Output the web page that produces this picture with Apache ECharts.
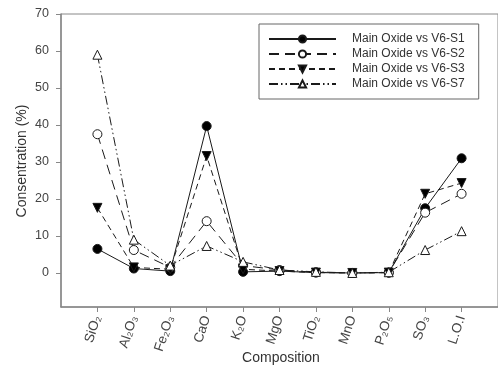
<!DOCTYPE html>
<html><head><meta charset="utf-8">
<script src="https://cdn.jsdelivr.net/npm/echarts@6/dist/echarts.min.js"></script>
<style>html,body{margin:0;padding:0;background:#fff}#c{width:498px;height:368px}</style>
</head><body><div id="c"></div>
<script>
const categories = ['SiO\u2082','Al\u2082O\u2083','Fe\u2082O\u2083','CaO','K\u2082O','MgO','TiO\u2082','MnO','P\u2082O\u2085','SO\u2083','L.O.I'];
const s1 = [6.5, 1.2, 0.5, 39.7, 0.3, 0.5, 0.1, 0.0, 0.1, 17.5, 31.0];
const s2 = [37.5, 6.2, 1.5, 14.0, 2.0, 0.8, 0.2, 0.0, 0.1, 16.3, 21.4];
const s3 = [17.6, 1.5, 1.0, 31.6, 1.0, 0.5, 0.1, 0.0, 0.1, 21.4, 24.3];
const s7 = [59.0, 9.0, 2.0, 7.3, 3.0, 0.8, 0.3, 0.0, 0.2, 6.2, 11.3];
const seriesNames = ['Main Oxide vs V6-S1','Main Oxide vs V6-S2','Main Oxide vs V6-S3','Main Oxide vs V6-S7'];
const yTicks = [0,10,20,30,40,50,60,70];
const xTicks = categories.map((c,i)=>i+1);

const FONT = 'Liberation Sans, Arial, sans-serif';
const toPairs = arr => arr.map((v,i)=>[i+1, v]);
const lineCol = '#1a1a1a';
function mk(name, data, symbol, fill, dash, rot){
  return {
    name, type:'line', data: toPairs(data), symbol, symbolSize: 9, symbolRotate: rot||0,
    lineStyle:{color: lineCol, width: 1, type: dash},
    itemStyle:{color: fill, borderColor: lineCol, borderWidth: 1},
    emphasis:{disabled:true}, z: 3
  };
}
const chart = echarts.init(document.getElementById('c'), null, {renderer:'canvas'});
chart.setOption({
  animation:false,
  backgroundColor:'#fff',
  grid:{left:61, top:14, width:441.6, height:293, show:true, borderColor:'#888', borderWidth:1, backgroundColor:'transparent'},
  xAxis:{type:'value', min:0, max:12,
    axisLine:{onZero:false, lineStyle:{color:'#888', width:1.5}},
    axisTick:{show:true, length:5, customValues:xTicks, lineStyle:{color:'#888'}},
    splitLine:{show:false},
    axisLabel:{customValues:xTicks, rotate:72, margin:9, fontSize:13.5, color:'#444', fontFamily:FONT,
      formatter: v => categories[v-1] || ''}
  },
  yAxis:{type:'value', min:-9.2, max:70,
    axisLine:{show:true, onZero:false, lineStyle:{color:'#888', width:1.5}},
    axisTick:{show:true, length:5, customValues:yTicks, lineStyle:{color:'#888'}},
    splitLine:{show:false},
    axisLabel:{customValues:yTicks, margin:12, fontSize:12.5, color:'#444', fontFamily:FONT}
  },
  legend:{orient:'vertical', left:259, top:24, data:seriesNames,
    backgroundColor:'#fff', borderColor:'#666', borderWidth:1,
    padding:[8,14,8,9], itemWidth:67, itemHeight:9, itemGap:1,
    textStyle:{fontSize:12, color:'#333', fontFamily:FONT, lineHeight:14, padding:[0,0,0,11]}
  },
  graphic:[
    {type:'text', x:281, y:358, style:{text:'Composition', font:'14px '+FONT, fill:'#333', align:'center', verticalAlign:'middle'}},
    {type:'text', x:22, y:161, rotation:Math.PI/2, style:{text:'Consentration (%)', font:'14px '+FONT, fill:'#333', align:'center', verticalAlign:'middle'}}
  ],
  series:[
    mk(seriesNames[0], s1, 'circle', '#000', 'solid'),
    mk(seriesNames[1], s2, 'circle', '#fff', [10,6]),
    mk(seriesNames[2], s3, 'triangle', '#000', [6,4], 180),
    mk(seriesNames[3], s7, 'triangle', '#fff', [9,3,1.5,3,1.5,3])
  ]
});
</script></body></html>
